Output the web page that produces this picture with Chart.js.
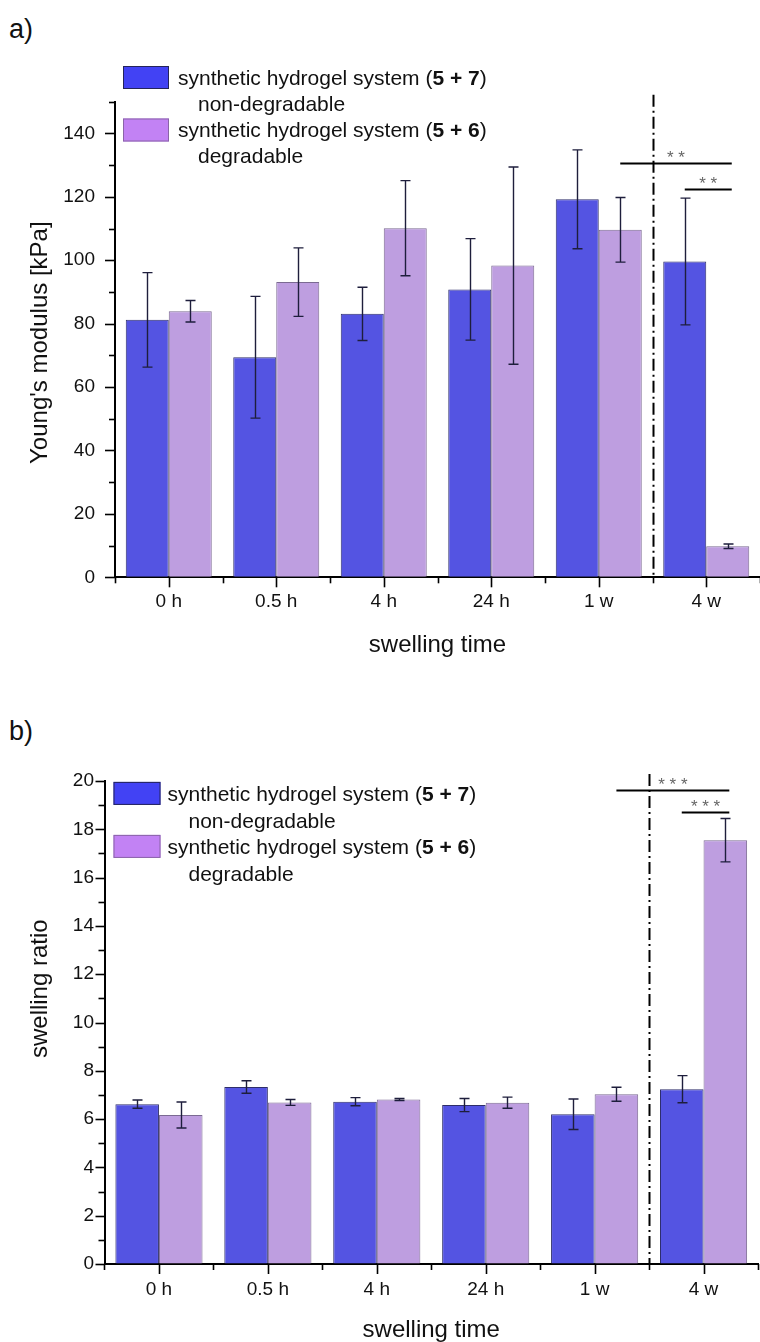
<!DOCTYPE html>
<html>
<head>
<meta charset="utf-8">
<script src="https://cdn.jsdelivr.net/npm/chart.js@4.4.0/dist/chart.umd.min.js"></script>
<style>
  html, body { margin: 0; padding: 0; background: #fff; overflow: hidden; }
  body { width: 760px; height: 1342px; position: relative; font-family: "Liberation Sans", Arial, sans-serif; }
  .panel { position: absolute; left: 0; width: 760px; }
  #wrapA { top: 0; height: 660px; }
  #wrapB { top: 660px; height: 682px; }
  .tag { position: absolute; left: 9px; font-size: 27px; line-height: 1; color: #111; }
  canvas { display: block; }
</style>
</head>
<body>
<div class="tag" style="top:16px">a)</div>
<div class="tag" style="top:718px">b)</div>
<div class="panel" id="wrapA"><canvas id="chartA" width="760" height="660"></canvas></div>
<div class="panel" id="wrapB"><canvas id="chartB" width="760" height="682"></canvas></div>

<script>
// ---- data ----
const categories = ['0 h', '0.5 h', '4 h', '24 h', '1 w', '4 w'];
const seriesNames = ['synthetic hydrogel system (5 + 7)', 'synthetic hydrogel system (5 + 6)'];
const seriesNotes = ['non-degradable', 'degradable'];

// Young's modulus [kPa], mean and standard deviation
const modulusNonDeg    = [81.2, 69.4, 83.1, 90.8, 119.2, 99.6];
const modulusNonDegErr = [14.9, 19.2, 8.4, 16.0, 15.6, 20.0];
const modulusDeg       = [83.9, 93.1, 110.1, 98.3, 109.6, 9.8];
const modulusDegErr    = [3.4, 10.8, 15.0, 31.1, 10.2, 0.7];

// swelling ratio, mean and standard deviation
const ratioNonDeg    = [6.62, 7.33, 6.72, 6.58, 6.20, 7.24];
const ratioNonDegErr = [0.17, 0.26, 0.17, 0.27, 0.63, 0.56];
const ratioDeg       = [6.17, 6.69, 6.81, 6.68, 7.03, 17.55];
const ratioDegErr    = [0.54, 0.12, 0.04, 0.23, 0.29, 0.90];

// significance brackets: [dataset, category] pairs and bracket level in axis units
const modulusSignif = [
  { from: [1, 4], to: [1, 5], level: 130.8, stars: '* *' },
  { from: [0, 5], to: [1, 5], level: 122.6, stars: '* *' }
];
const ratioSignif = [
  { from: [1, 4], to: [1, 5], level: 19.63, stars: '* * *' },
  { from: [0, 5], to: [1, 5], level: 18.7, stars: '* * *' }
];

// ---- styling ----
const FONT = '"Liberation Sans", Arial, sans-serif';
const BLUE = '#5454e2', BLUE_EDGE = '#2e2e6a', BLUE_KEY = '#4242f4';
const LILAC = '#be9ee0', LILAC_EDGE = '#7b6a92', LILAC_KEY = '#c282f4';

// error bars drawn at each bar centre
const errorBars = {
  id: 'errorBars',
  afterDatasetsDraw(chart) {
    const ctx = chart.ctx, ys = chart.scales.y;
    ctx.save();
    ctx.strokeStyle = '#1e1e3c';
    ctx.lineWidth = 1.4;
    chart.data.datasets.forEach((ds, di) => {
      const meta = chart.getDatasetMeta(di);
      meta.data.forEach((bar, j) => {
        const v = ds.data[j], e = ds.errors[j];
        const yHi = ys.getPixelForValue(v + e), yLo = ys.getPixelForValue(v - e);
        const x = Math.round(bar.x) + 0.5, cap = 5;
        ctx.beginPath();
        ctx.moveTo(x, yHi); ctx.lineTo(x, yLo);
        ctx.moveTo(x - cap, yHi); ctx.lineTo(x + cap, yHi);
        ctx.moveTo(x - cap, yLo); ctx.lineTo(x + cap, yLo);
        ctx.stroke();
      });
    });
    ctx.restore();
  }
};

// tick marks: long at labelled values / category centres, short in between
const axisMarks = {
  id: 'axisMarks',
  afterDraw(chart) {
    const ctx = chart.ctx, xs = chart.scales.x, ys = chart.scales.y, a = chart.chartArea;
    const o = chart.options.plugins.axisMarks;
    ctx.save();
    ctx.strokeStyle = '#000';
    ctx.lineWidth = 1.6;
    const seg = (x1, y1, x2, y2) => { ctx.beginPath(); ctx.moveTo(x1, y1); ctx.lineTo(x2, y2); ctx.stroke(); };
    ys.ticks.forEach(t => {
      const py = Math.round(ys.getPixelForValue(t.value)) + 0.5;
      const major = t.label !== '' && t.label !== undefined;
      seg(a.left - (major ? o.yMajor : o.yMinor), py, a.left, py);
    });
    const n = chart.data.labels.length;
    const half = (xs.getPixelForValue(1) - xs.getPixelForValue(0)) / 2;
    for (let i = 0; i < n; i++) {
      const px = Math.round(xs.getPixelForValue(i)) + 0.5;
      seg(px, a.bottom, px, a.bottom + 10);
    }
    for (let i = 0; i <= n; i++) {
      const px = Math.round(xs.getPixelForValue(Math.min(i, n - 1)) + (i < n ? -half : half)) + 0.5;
      seg(px, a.bottom, px, a.bottom + 6);
    }
    // dash-dot separator between the last two groups
    const sx = Math.round((xs.getPixelForValue(n - 2) + xs.getPixelForValue(n - 1)) / 2) + 0.5;
    ctx.lineWidth = 2;
    ctx.setLineDash([12, 4, 2, 4]);
    seg(sx, a.top - 7, sx, a.bottom);
    ctx.setLineDash([]);

    // vertical axis title, centred on a given axis value
    ctx.fillStyle = '#111';
    ctx.font = '24px ' + FONT;
    ctx.textAlign = 'center';
    ctx.textBaseline = 'middle';
    ctx.translate(o.titleX, ys.getPixelForValue(o.titleAt));
    ctx.rotate(-Math.PI / 2);
    ctx.fillText(o.title, 0, 0);
    ctx.restore();
  }
};

// significance brackets with star labels
const signifMarks = {
  id: 'signifMarks',
  afterDraw(chart) {
    const ctx = chart.ctx, ys = chart.scales.y;
    const list = chart.options.plugins.signifMarks.items;
    ctx.save();
    list.forEach(s => {
      const x1 = chart.getDatasetMeta(s.from[0]).data[s.from[1]].x;
      const x2 = chart.getDatasetMeta(s.to[0]).data[s.to[1]].x + 4;
      const y = Math.round(ys.getPixelForValue(s.level)) + 0.5;
      ctx.strokeStyle = '#000';
      ctx.lineWidth = 2;
      ctx.beginPath(); ctx.moveTo(x1, y); ctx.lineTo(x2, y); ctx.stroke();
      ctx.fillStyle = '#666';
      ctx.font = '17px ' + FONT;
      ctx.textAlign = 'center';
      ctx.textBaseline = 'alphabetic';
      ctx.fillText(s.stars, (x1 + x2) / 2, y - 1);
    });
    ctx.restore();
  }
};

// series key with two-line labels and bold compound numbers
const seriesKey = {
  id: 'seriesKey',
  afterDraw(chart) {
    const ctx = chart.ctx, a = chart.chartArea;
    const o = chart.options.plugins.seriesKey;
    ctx.save();
    ctx.textBaseline = 'middle';
    ctx.textAlign = 'left';
    chart.data.datasets.forEach((ds, i) => {
      const bx = a.left + o.dx, cy = a.top + o.dy + i * o.step;
      ctx.fillStyle = ds.keyColor;
      ctx.fillRect(bx, cy - o.boxH / 2, o.boxW, o.boxH);
      ctx.strokeStyle = ds.keyEdge;
      ctx.lineWidth = 1;
      ctx.strokeRect(bx + 0.5, cy - o.boxH / 2 + 0.5, o.boxW - 1, o.boxH - 1);
      const m = ds.label.match(/^(.*\()(.+)(\))$/);
      const parts = m ? [[m[1], ''], [m[2], 'bold '], [m[3], '']] : [[ds.label, '']];
      let tx = bx + o.textDx;
      ctx.fillStyle = '#111';
      parts.forEach(([txt, w]) => {
        ctx.font = w + o.size + 'px ' + FONT;
        ctx.fillText(txt, tx, cy + o.textDy);
        tx += ctx.measureText(txt).width;
      });
      ctx.font = o.size + 'px ' + FONT;
      ctx.fillText(ds.note, bx + o.noteDx, cy + o.textDy + o.noteGap);
    });
    ctx.restore();
  }
};

function makeDatasets(a, aErr, b, bErr) {
  return [
    { label: seriesNames[0], note: seriesNotes[0], data: a, errors: aErr,
      backgroundColor: BLUE, borderColor: BLUE_EDGE, borderWidth: 1,
      keyColor: BLUE_KEY, keyEdge: '#24245a' },
    { label: seriesNames[1], note: seriesNotes[1], data: b, errors: bErr,
      backgroundColor: LILAC, borderColor: LILAC_EDGE, borderWidth: 1,
      keyColor: LILAC_KEY, keyEdge: '#8a64a8' }
  ];
}

function build(canvasId, cfg) {
  return new Chart(document.getElementById(canvasId), {
    type: 'bar',
    data: { labels: categories, datasets: cfg.datasets },
    plugins: [errorBars, axisMarks, signifMarks, seriesKey],
    options: {
      responsive: false,
      animation: false,
      events: [],
      layout: { padding: { top: cfg.top, right: cfg.right, left: 0, bottom: 0 } },
      datasets: { bar: { categoryPercentage: 0.8, barPercentage: 1.0 } },
      plugins: {
        legend: { display: false },
        tooltip: { enabled: false },
        axisMarks: { yMajor: cfg.yMajor, yMinor: 6, title: cfg.yTitle, titleAt: cfg.yTitleAt, titleX: 40 },
        signifMarks: { items: cfg.signif },
        seriesKey: cfg.key
      },
      scales: {
        x: {
          grid: { display: true, drawOnChartArea: false, drawTicks: false },
          border: { display: true, color: '#000', width: 2 },
          ticks: { color: '#111', padding: cfg.xPad, font: { family: FONT, size: 19, lineHeight: 1 } },
          title: { display: true, text: 'swelling time', color: '#111',
                   font: { family: FONT, size: 24, lineHeight: 1 }, padding: { top: 0, bottom: cfg.xTitlePad } },
          afterFit(s) { s.height = cfg.xHeight; }
        },
        y: {
          min: 0, max: cfg.yMax,
          grid: { display: true, drawOnChartArea: false, drawTicks: false },
          border: { display: true, color: '#000', width: 2 },
          ticks: {
            stepSize: cfg.yStep, color: '#111', padding: cfg.yPad,
            font: { family: FONT, size: 19, lineHeight: 1 },
            callback: v => (v % cfg.yLabelEvery === 0 && v <= cfg.yLabelMax) ? String(v) : ''
          },
          title: { display: false },
          afterFit(s) { s.width = cfg.yWidth; }
        }
      }
    }
  });
}

build('chartA', {
  datasets: makeDatasets(modulusNonDeg, modulusNonDegErr, modulusDeg, modulusDegErr),
  top: 101.7, right: 0, xHeight: 82.7, xPad: 15, xTitlePad: 3,
  yMax: 150, yStep: 10, yLabelEvery: 20, yLabelMax: 140, yWidth: 115, yPad: 20, yMajor: 10,
  yTitle: "Young's modulus [kPa]", yTitleAt: 74,
  signif: modulusSignif,
  key: { dx: 8, dy: -24.2, step: 52.5, boxW: 46, boxH: 23, textDx: 55, noteDx: 75, textDy: 1.5, noteGap: 26, size: 21 }
});

build('chartB', {
  datasets: makeDatasets(ratioNonDeg, ratioNonDegErr, ratioDeg, ratioDegErr),
  top: 121, right: 2, xHeight: 78, xPad: 16.5, xTitlePad: 0,
  yMax: 20, yStep: 1, yLabelEvery: 2, yLabelMax: 20, yWidth: 104.5, yPad: 10.5, yMajor: 9,
  yTitle: 'swelling ratio', yTitleAt: 11.4,
  signif: ratioSignif,
  key: { dx: 9, dy: 12.4, step: 53, boxW: 47, boxH: 23, textDx: 54, noteDx: 75, textDy: 1.6, noteGap: 27, size: 21 }
});
</script>
</body>
</html>
